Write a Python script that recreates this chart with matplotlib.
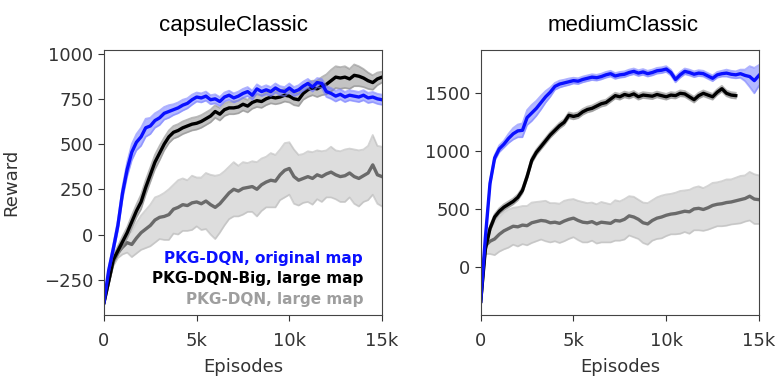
import numpy as np
import matplotlib
matplotlib.use("Agg")
import matplotlib.pyplot as plt

# episodes, one point every 250
ep = np.arange(0, 15001, 250)
ep_big_med = np.arange(0, 13751, 250)

# capsuleClassic
cap_orig = [-376, -200, -80, 50, 230, 360, 455, 510, 540, 590, 600, 630, 645, 670, 680, 690,
            700, 715, 725, 745, 760, 755, 765, 745, 750, 735, 760, 770, 755, 765, 780, 790,
            770, 805, 790, 800, 790, 810, 795, 790, 810, 790, 800, 820, 835, 815, 840, 835,
            790, 780, 765, 775, 760, 770, 765, 760, 770, 755, 760, 750, 745]
cap_orig_sd = [5, 15, 25, 30, 35, 40, 45, 45, 50, 50, 45, 40, 40, 35, 35, 30,
               30, 30, 28, 28, 25, 25, 25, 25, 25, 25, 25, 25, 25, 25, 25, 25,
               25, 25, 25, 25, 25, 25, 25, 25, 25, 25, 25, 25, 25, 25, 25, 25,
               30, 30, 30, 28, 28, 28, 28, 28, 28, 28, 28, 28, 28]
cap_big = [-376, -260, -140, -90, -40, 10, 70, 130, 180, 260, 330, 400, 450, 500, 540, 565,
           575, 590, 600, 610, 615, 625, 640, 655, 680, 665, 690, 700, 700, 705, 720, 710,
           730, 740, 735, 750, 760, 755, 760, 770, 765, 750, 745, 780, 800, 810, 805, 820,
           830, 850, 870, 865, 870, 860, 880, 875, 865, 850, 840, 860, 870]
cap_big_sd = [5, 15, 20, 25, 30, 30, 35, 35, 40, 40, 40, 40, 40, 35, 35, 35,
              35, 35, 35, 35, 35, 35, 35, 35, 35, 35, 35, 35, 35, 35, 35, 35,
              35, 35, 35, 35, 35, 35, 35, 35, 35, 35, 35, 35, 40, 40, 45, 50,
              55, 60, 60, 60, 60, 55, 60, 55, 50, 45, 40, 35, 30]
cap_small = [-376, -260, -150, -100, -70, -45, -55, -20, 10, 30, 50, 80, 95, 100, 110, 140,
             150, 165, 160, 175, 180, 170, 185, 165, 150, 170, 200, 230, 250, 240, 255, 260,
             265, 250, 275, 290, 300, 295, 330, 355, 365, 320, 300, 310, 320, 310, 330, 320,
             335, 345, 330, 320, 325, 340, 320, 310, 325, 340, 385, 330, 320]
cap_small_sd = [0, 15, 25, 30, 40, 55, 70, 85, 95, 105, 115, 125, 120, 130, 140, 135,
                150, 145, 140, 150, 135, 145, 155, 165, 175, 160, 150, 145, 150, 140, 145, 135,
                140, 150, 145, 140, 150, 145, 140, 150, 145, 150, 140, 135, 140, 145, 135, 140,
                130, 140, 135, 140, 145, 135, 150, 155, 145, 150, 165, 160, 165]

# mediumClassic
med_orig = [-300, 250, 720, 940, 1020, 1060, 1110, 1150, 1175, 1180, 1290, 1330, 1370, 1420, 1470, 1510,
            1560, 1580, 1590, 1600, 1610, 1605, 1620, 1630, 1640, 1635, 1645, 1660, 1670, 1650, 1660, 1665,
            1680, 1690, 1675, 1685, 1670, 1680, 1695, 1700, 1710, 1680, 1620, 1660, 1690, 1680, 1665, 1675,
            1670, 1650, 1630, 1660, 1670, 1675, 1665, 1660, 1670, 1655, 1645, 1610, 1655]
med_orig_sd = [10, 20, 25, 25, 30, 30, 40, 50, 55, 60, 65, 70, 65, 60, 50, 40,
               30, 30, 28, 28, 25, 25, 25, 25, 25, 25, 25, 25, 25, 25, 25, 25,
               25, 25, 25, 25, 25, 25, 25, 25, 25, 25, 25, 25, 25, 25, 25, 25,
               25, 25, 25, 25, 25, 30, 30, 30, 35, 50, 90, 110, 90]
med_big = [-300, 150, 330, 430, 480, 515, 540, 565, 600, 660, 780, 920, 990, 1040, 1090, 1140,
           1180, 1220, 1250, 1310, 1300, 1310, 1340, 1360, 1370, 1390, 1410, 1420, 1450, 1480, 1470, 1490,
           1480, 1495, 1470, 1485, 1480, 1475, 1490, 1480, 1470, 1485, 1480, 1500, 1495, 1470, 1445, 1480,
           1500, 1485, 1470, 1510, 1540, 1500, 1485, 1480]
med_big_sd = [10, 20, 25, 25, 25, 25, 25, 25, 25, 25, 25, 25, 25, 25, 25, 25,
              25, 25, 25, 25, 25, 25, 25, 25, 25, 25, 25, 25, 25, 25, 25, 25,
              25, 25, 25, 25, 25, 25, 25, 25, 25, 25, 25, 25, 25, 25, 25, 25,
              25, 25, 25, 25, 25, 25, 25, 25]
med_small = [-300, 180, 220, 240, 280, 310, 330, 350, 345, 360, 355, 380, 390, 400, 395, 380,
             385, 375, 395, 410, 420, 400, 385, 380, 390, 370, 385, 380, 375, 400, 395, 410,
             440, 430, 410, 380, 370, 400, 420, 430, 445, 455, 460, 470, 480, 475, 500, 505,
             495, 510, 530, 540, 545, 555, 560, 570, 580, 590, 610, 585, 580]
med_small_sd = [0, 70, 110, 140, 150, 160, 165, 160, 170, 165, 170, 175, 170, 165, 175, 170,
                165, 170, 175, 170, 165, 170, 175, 170, 165, 170, 175, 170, 165, 175, 170, 175,
                170, 175, 170, 175, 180, 175, 180, 185, 180, 175, 180, 185, 180, 190, 185, 190,
                185, 190, 195, 190, 195, 200, 195, 200, 205, 200, 210, 215, 210]

labels = ["PKG-DQN, original map", "PKG-DQN-Big, large map", "PKG-DQN, large map"]
blue = "#0a10ff"
dark = "#000000"
grey = "#6a6a6a"


def draw(ax, x, y, sd, color, band, edge):
    y = np.array(y, dtype=float)
    sd = np.array(sd, dtype=float)
    ax.fill_between(x, y - sd, y + sd, color=band, alpha=0.45, lw=0)
    ax.plot(x, y - sd, color=edge, lw=1.3, alpha=0.6)
    ax.plot(x, y + sd, color=edge, lw=1.3, alpha=0.6)
    ax.plot(x, y, color=color, lw=2.4)


fig = plt.figure(figsize=(7.79, 3.81), dpi=100)
ax1 = fig.add_axes([0.1335, 0.1732, 0.3569, 0.6956])
ax2 = fig.add_axes([0.6171, 0.1732, 0.3572, 0.6956])

draw(ax1, ep, cap_small, cap_small_sd, grey, "#b4b4b4", "#b8b8b8")
draw(ax1, ep, cap_big, cap_big_sd, dark, "#7a7a7a", "#8a8a8a")
draw(ax1, ep, cap_orig, cap_orig_sd, blue, "#5a64ff", "#7a80ff")

draw(ax2, ep, med_small, med_small_sd, grey, "#b4b4b4", "#b8b8b8")
draw(ax2, ep_big_med, med_big, med_big_sd, dark, "#7a7a7a", "#8a8a8a")
draw(ax2, ep, med_orig, med_orig_sd, blue, "#5a64ff", "#7a80ff")

ax1.set_ylim(-445, 1020)
ax2.set_ylim(-418, 1875)
ax1.set_yticks([-250, 0, 250, 500, 750, 1000])
ax2.set_yticks([0, 500, 1000, 1500])

for ax in (ax1, ax2):
    ax.set_xlim(0, 15000)
    ax.set_xticks([0, 5000, 10000, 15000])
    ax.set_xticklabels(["0", "5k", "10k", "15k"])
    ax.tick_params(labelsize=13, colors="#333333", length=4)
    ax.tick_params(axis="x", pad=8)
    ax.set_xlabel("Episodes", fontsize=13, color="#333333", labelpad=6)
    for s in ax.spines.values():
        s.set_color("#444444")

ax1.set_ylabel("Reward", fontsize=13, color="#333333")
ax1.yaxis.set_label_coords(-0.30, 0.5)
ax1.set_title("capsuleClassic", fontsize=16, family="Liberation Sans", x=0.464, pad=14)
ax2.set_title("mediumClassic", fontsize=16, family="Liberation Sans", x=0.511, pad=14)

for txt, c, yy in zip(labels, [blue, dark, "#9e9e9e"], [0.215, 0.136, 0.057]):
    ax1.text(0.932, yy, txt, transform=ax1.transAxes, ha="right", va="center",
             fontsize=11, fontweight="bold", color=c)

fig.savefig("out.png", dpi=100)
